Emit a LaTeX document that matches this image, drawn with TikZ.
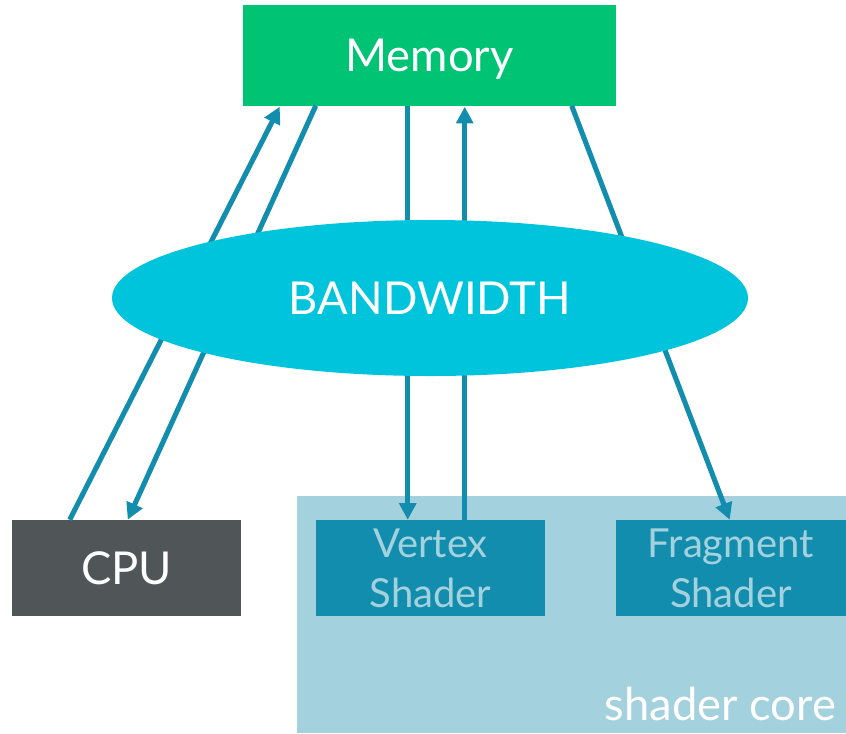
\documentclass[tikz,border=0pt]{standalone}
\usepackage{fontspec}
\setmainfont{Lato}
\usetikzlibrary{shapes.geometric,arrows.meta,calc}
\definecolor{memgreen}{HTML}{00C373}
\definecolor{bwcyan}{HTML}{00C4DC}
\definecolor{cpugray}{HTML}{505657}
\definecolor{corebg}{HTML}{A3D1DD}
\definecolor{shaderbox}{HTML}{138DAD}
\definecolor{arrowblue}{HTML}{138DAD}
\begin{document}
\begin{tikzpicture}[x=0.75pt,y=-0.75pt,
  box/.style={rectangle, inner sep=0pt, text=white},
  bigtext/.style={font=\fontsize{34}{40}\selectfont},
  shadertext/.style={font=\fontsize{30}{37.5}\selectfont, text=corebg, align=center},
  arr/.style={draw=arrowblue, line width=3.8pt, -{Triangle[length=12.5pt,width=12.5pt]}}]
\useasboundingbox (0,0) rectangle (846,733);
% shader core background
\node[rectangle, inner sep=0pt, fill=corebg, minimum width={549*0.75pt}, minimum height={237*0.75pt}] (core) at (571.5,614.5) {};
\node[anchor=base east, inner sep=0pt, text=white, font=\fontsize{34}{40}\selectfont] (corelabel) at ($(core.south east)+(-10,-13)$) {shader core};
% boxes
\node[box, fill=memgreen, bigtext, minimum width={373*0.75pt}, minimum height={101*0.75pt}, text depth=0pt] (mem) at (429.5,55) {Memory};
\node[box, fill=cpugray, bigtext, minimum width={229*0.75pt}, minimum height={96*0.75pt}, text depth=0pt] (cpu) at (126.5,568) {CPU};
\node[box, fill=shaderbox, shadertext, minimum width={229*0.75pt}, minimum height={96*0.75pt}] (vs) at (430.5,568) {Vertex\\Shader};
\node[box, fill=shaderbox, shadertext, minimum width={230*0.75pt}, minimum height={96*0.75pt}] (fs) at (731,568) {Fragment\\Shader};
% arrows
\draw[arr] ($(cpu.north west)+(58,0)$) -- ($(mem.south west)+(37,1)$);
\draw[arr] ($(mem.south west)+(73,0)$) -- ($(cpu.north west)+(116,0)$);
\draw[arr] ($(mem.south west)+(165,0)$) -- ($(vs.north west)+(92,0)$);
\draw[arr] ($(vs.north west)+(149,0)$) -- ($(mem.south west)+(222,1)$);
\draw[arr] ($(mem.south west)+(329,0)$) -- ($(fs.north west)+(114,0)$);
% bandwidth ellipse
\node[ellipse, inner sep=0pt, fill=bwcyan, text=white, bigtext, minimum width={636*0.75pt}, minimum height={156*0.75pt}] (bw) at (430,298) {BANDWIDTH};
\end{tikzpicture}
\end{document}
